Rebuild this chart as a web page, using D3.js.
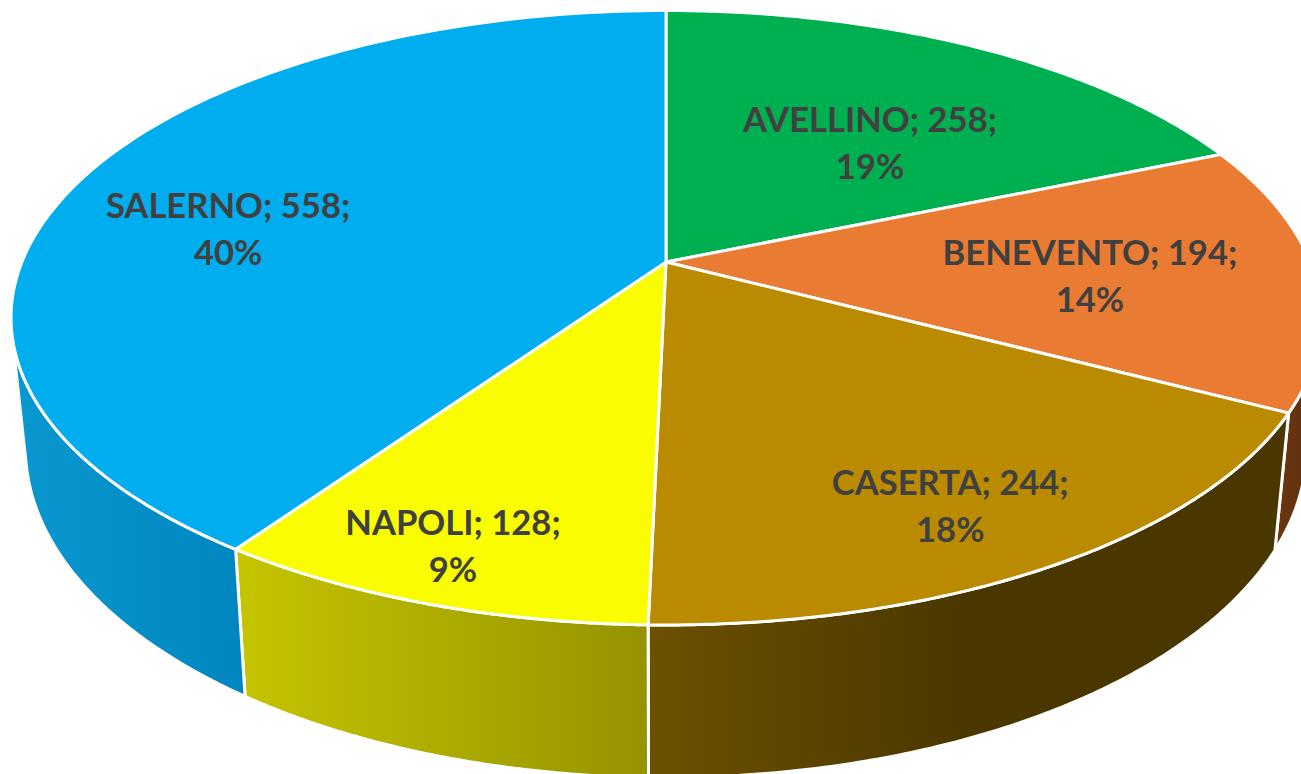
<!DOCTYPE html>
<html>
<head>
<meta charset="utf-8">
<script src="https://cdn.jsdelivr.net/npm/d3@7"></script>
<style>html,body{margin:0;padding:0;background:#fff;overflow:hidden}svg{display:block}</style>
</head>
<body>
<svg id="chart" width="1301" height="774"></svg>
<script>
const categories = ["AVELLINO", "BENEVENTO", "CASERTA", "NAPOLI", "SALERNO"];
const values = [258, 194, 244, 128, 558];
const percents = ["19%", "14%", "18%", "9%", "40%"];
const topColors = ["#00b050", "#e97b32", "#ba8a00", "#fafc00", "#00adef"];
const sideFrom = ["#00803a", "#6b3610", "#6c5100", "#c6c500", "#0a98d0"];
const sideTo = ["#00803a", "#5e2f0e", "#4a3700", "#949300", "#0086be"];
const labelDx = [2, 23, 60, -75, -69];
const labelDy = [22, 7, 69, 89, 21];

const cx = 666, cy = 262, A = 644.1, B = 297.1, k = 0.1814;
const lowerScaleX = 0.978, lowerScaleY = 1.073, lowerShift = 107;
const hiddenFrom = (100 / 180) * Math.PI;   // rim turns out of sight on the right
const hiddenTo = (256 / 180) * Math.PI;     // rim turns out of sight on the left

function project(theta, r = 1) {
  const s = Math.sin(theta) * r, c = Math.cos(theta) * r, d = 1 + k * c;
  return [cx + A * s / d, cy - B * c / d];
}
function lower(p) {
  return [cx + lowerScaleX * (p[0] - cx), lowerScaleY * p[1] + lowerShift];
}
function samples(a0, a1) {
  return d3.range(0, 121).map(i => a0 + (a1 - a0) * i / 120);
}

const svg = d3.select("#chart");
const arcs = d3.pie().sort(null).value(d => d)(values);
const line = d3.line();

const defs = svg.append("defs");
arcs.forEach((d, i) => {
  const g = defs.append("linearGradient").attr("id", "side" + i)
    .attr("x1", 0).attr("x2", 1).attr("y1", 0).attr("y2", 0);
  g.append("stop").attr("offset", 0).attr("stop-color", sideFrom[i]);
  g.append("stop").attr("offset", i === 2 ? 0.5 : 1).attr("stop-color", sideTo[i]);
});

// side wall
svg.append("g").selectAll("path").data(arcs).join("path")
  .attr("d", d => {
    const a0 = Math.max(d.startAngle, hiddenFrom), a1 = Math.min(d.endAngle, hiddenTo);
    if (a1 <= a0) return null;
    const topRim = samples(a0, a1).map(t => project(t));
    const low = topRim.map(lower).reverse();
    return line(topRim.concat(low)) + "Z";
  })
  .attr("fill", d => "url(#side" + d.index + ")")
  .attr("stroke", "#fff").attr("stroke-width", 3).attr("stroke-linejoin", "round");

// top face
svg.append("g").selectAll("path").data(arcs).join("path")
  .attr("d", d => line([[cx, cy]].concat(samples(d.startAngle, d.endAngle).map(t => project(t)))) + "Z")
  .attr("fill", (d, i) => topColors[i])
  .attr("stroke", "#fff").attr("stroke-width", 3).attr("stroke-linejoin", "round");

// labels
const labels = svg.append("g").attr("font-family", "Lato, 'Open Sans', sans-serif")
  .attr("font-weight", 700).attr("font-size", 34.6).attr("fill", "#404040")
  .attr("text-anchor", "middle");
arcs.forEach((d, i) => {
  const p = project((d.startAngle + d.endAngle) / 2, 0.62);
  const x = p[0] + labelDx[i], y = p[1] + labelDy[i];
  labels.append("text").attr("x", x).attr("y", y - 12).text(`${categories[i]}; ${values[i]};`);
  labels.append("text").attr("x", x).attr("y", y + 35).text(percents[i]);
});
</script>
</body>
</html>
